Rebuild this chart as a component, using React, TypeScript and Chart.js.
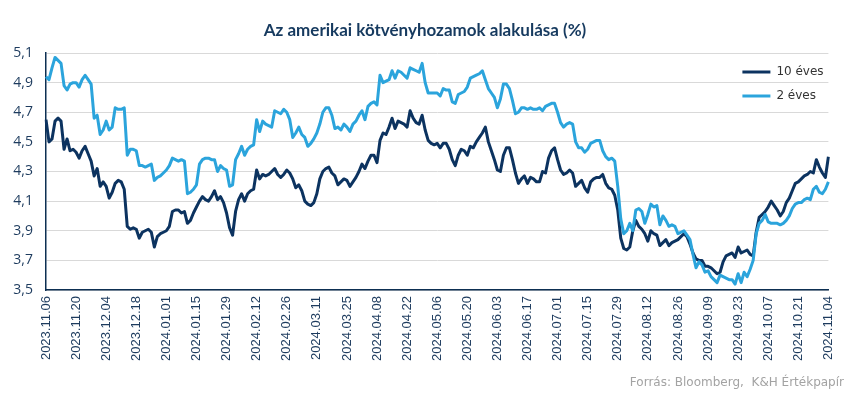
import { useEffect, useRef } from 'react';
import { Chart, registerables } from 'chart.js';

Chart.register(...registerables);

const TITLE = 'Az amerikai kötvényhozamok alakulása (%)';
const SOURCE = 'Forrás: Bloomberg,  K&H Értékpapír';
const SERIES_NAMES = ['10 éves', '2 éves'];

const TICK_LABELS = [
  '2023.11.06', '2023.11.20', '2023.12.04', '2023.12.18', '2024.01.01', '2024.01.15',
  '2024.01.29', '2024.02.12', '2024.02.26', '2024.03.11', '2024.03.25', '2024.04.08',
  '2024.04.22', '2024.05.06', '2024.05.20', '2024.06.03', '2024.06.17', '2024.07.01',
  '2024.07.15', '2024.07.29', '2024.08.12', '2024.08.26', '2024.09.09', '2024.09.23',
  '2024.10.07', '2024.10.21', '2024.11.04',
];
const TICK_EVERY = 10; // business days between labelled ticks

const Y10 = [
  4.65, 4.50, 4.52, 4.64, 4.66, 4.64, 4.45, 4.52, 4.44, 4.45,
  4.43, 4.39, 4.44, 4.47, 4.42, 4.37, 4.27, 4.32, 4.20, 4.23,
  4.20, 4.12, 4.16, 4.22, 4.24, 4.23, 4.18, 3.93, 3.91, 3.92,
  3.91, 3.85, 3.89, 3.90, 3.91, 3.89, 3.79, 3.86, 3.88, 3.89,
  3.90, 3.93, 4.03, 4.04, 4.04, 4.02, 4.03, 3.95, 3.97, 4.02,
  4.06, 4.10, 4.13, 4.11, 4.10, 4.13, 4.17, 4.11, 4.13, 4.09,
  4.02, 3.92, 3.87, 4.03, 4.11, 4.15, 4.10, 4.15, 4.17, 4.18,
  4.31, 4.25, 4.28, 4.27, 4.28, 4.30, 4.32, 4.28, 4.26, 4.28,
  4.31, 4.29, 4.25, 4.19, 4.21, 4.17, 4.10, 4.08, 4.07, 4.09,
  4.15, 4.25, 4.30, 4.32, 4.33, 4.29, 4.27, 4.21, 4.23, 4.25,
  4.24, 4.20, 4.23, 4.26, 4.30, 4.35, 4.32, 4.37, 4.41, 4.41,
  4.36, 4.51, 4.56, 4.55, 4.60, 4.66, 4.59, 4.64, 4.63, 4.62,
  4.60, 4.71, 4.66, 4.63, 4.62, 4.68, 4.58, 4.51, 4.49, 4.48,
  4.49, 4.46, 4.49, 4.49, 4.45, 4.38, 4.34, 4.41, 4.45, 4.44,
  4.41, 4.47, 4.46, 4.50, 4.53, 4.56, 4.60, 4.50, 4.44, 4.38,
  4.31, 4.30, 4.41, 4.46, 4.46, 4.38, 4.29, 4.22, 4.25, 4.27,
  4.22, 4.26, 4.25, 4.23, 4.23, 4.30, 4.29, 4.39, 4.44, 4.46,
  4.38, 4.31, 4.28, 4.29, 4.31, 4.29, 4.20, 4.22, 4.24, 4.19,
  4.16, 4.23, 4.25, 4.26, 4.26, 4.28, 4.22, 4.19, 4.18, 4.14,
  4.04, 3.85, 3.78, 3.77, 3.79, 3.90, 3.97, 3.93, 3.91, 3.88,
  3.83, 3.90, 3.88, 3.87, 3.80, 3.82, 3.84, 3.80, 3.82, 3.83,
  3.84, 3.86, 3.88, 3.86, 3.81, 3.75, 3.71, 3.70, 3.70, 3.66,
  3.66, 3.65, 3.63, 3.61, 3.62, 3.69, 3.73, 3.74, 3.75, 3.72,
  3.79, 3.75, 3.76, 3.77, 3.74, 3.73, 3.89, 3.99, 4.01, 4.03,
  4.06, 4.10, 4.07, 4.04, 4.00, 4.03, 4.09, 4.12, 4.17, 4.22,
  4.23, 4.25, 4.27, 4.28, 4.30, 4.29, 4.38, 4.33, 4.29, 4.26,
  4.40,
];

const Y2 = [
  4.94, 4.92, 5.00, 5.07, 5.05, 5.03, 4.88, 4.85, 4.89, 4.90,
  4.90, 4.87, 4.92, 4.95, 4.92, 4.89, 4.66, 4.68, 4.55, 4.58,
  4.64, 4.58, 4.60, 4.73, 4.72, 4.72, 4.73, 4.41, 4.45, 4.45,
  4.44, 4.34, 4.34, 4.33, 4.34, 4.35, 4.24, 4.26, 4.27, 4.29,
  4.31, 4.34, 4.39, 4.38, 4.37, 4.38, 4.37, 4.15, 4.16, 4.18,
  4.21, 4.35, 4.38, 4.39, 4.39, 4.38, 4.38, 4.30, 4.34, 4.32,
  4.31, 4.20, 4.21, 4.38, 4.42, 4.47, 4.41, 4.45, 4.47, 4.48,
  4.65, 4.57, 4.64, 4.62, 4.61, 4.60, 4.71, 4.70, 4.69, 4.72,
  4.70, 4.65, 4.53, 4.56, 4.60, 4.55, 4.53, 4.47, 4.49, 4.52,
  4.56, 4.62, 4.70, 4.73, 4.73, 4.68, 4.59, 4.60, 4.58, 4.62,
  4.60, 4.57, 4.62, 4.64, 4.68, 4.71, 4.65, 4.74, 4.76, 4.77,
  4.75, 4.95, 4.90, 4.91, 4.92, 4.98, 4.93, 4.98, 4.97, 4.95,
  4.93, 5.00, 4.99, 4.98, 4.97, 5.03, 4.90, 4.83, 4.83, 4.83,
  4.83, 4.81, 4.86, 4.85, 4.85, 4.77, 4.76, 4.82, 4.83, 4.84,
  4.87, 4.93, 4.94, 4.95, 4.96, 4.98, 4.92, 4.86, 4.83, 4.80,
  4.73, 4.79, 4.89, 4.89, 4.86, 4.78, 4.69, 4.70, 4.73, 4.73,
  4.72, 4.73, 4.72, 4.72, 4.73, 4.71, 4.74, 4.75, 4.76, 4.76,
  4.70, 4.63, 4.60, 4.62, 4.63, 4.62, 4.50, 4.46, 4.46, 4.43,
  4.45, 4.49, 4.50, 4.51, 4.51, 4.44, 4.40, 4.38, 4.39, 4.37,
  4.20, 3.98, 3.88, 3.90, 3.95, 3.90, 4.04, 4.05, 4.03, 3.95,
  4.01, 4.08, 4.06, 4.07, 3.94, 4.00, 3.97, 3.93, 3.94, 3.93,
  3.88, 3.89, 3.90, 3.87, 3.84, 3.74, 3.65, 3.69, 3.67, 3.62,
  3.63, 3.59, 3.57, 3.55, 3.60, 3.59, 3.58, 3.57, 3.57, 3.54,
  3.61, 3.55, 3.62, 3.59, 3.64, 3.70, 3.88, 3.95, 3.97, 4.01,
  3.96, 3.95, 3.95, 3.95, 3.94, 3.95, 3.97, 4.00, 4.05, 4.08,
  4.09, 4.09, 4.11, 4.12, 4.11, 4.18, 4.20, 4.16, 4.15, 4.18,
  4.23,
];

const Y_MIN = 3.5;
const Y_MAX = 5.1;
const Y_STEP = 0.2;

const DARK = '#0c3360';
const LIGHT = '#2ba4dc';
const AXIS = '#0d2f52';
const TEXT = '#1d3b5e';

const LABELS = Y10.map((_, i) => (i % TICK_EVERY === 0 ? TICK_LABELS[i / TICK_EVERY] ?? '' : ''));

const decor = {
  id: 'decor',
  afterDraw(chart: any) {
    const ctx = chart.ctx as CanvasRenderingContext2D;
    const area = chart.chartArea;
    ctx.save();
    // title
    ctx.fillStyle = '#163a5f';
    ctx.font = 'bold 17px Lato';
    ctx.textAlign = 'center';
    ctx.textBaseline = 'middle';
    ctx.fillText(TITLE, chart.width / 2, 31);

    // legend
    const lx = area.right - 86;
    const rows = [
      { name: SERIES_NAMES[0], color: DARK, y: area.top + 19 },
      { name: SERIES_NAMES[1], color: LIGHT, y: area.top + 43 },
    ];
    ctx.font = '12px "DejaVu Sans"';
    ctx.textAlign = 'left';
    ctx.textBaseline = 'middle';
    for (const r of rows) {
      ctx.strokeStyle = r.color;
      ctx.lineWidth = 3;
      ctx.beginPath();
      ctx.moveTo(lx, r.y);
      ctx.lineTo(lx + 28, r.y);
      ctx.stroke();
      ctx.fillStyle = '#333333';
      ctx.fillText(r.name, lx + 34, r.y);
    }

    // source
    ctx.fillStyle = '#a3a3a3';
    ctx.font = '12px "DejaVu Sans"';
    ctx.textAlign = 'right';
    ctx.textBaseline = 'alphabetic';
    ctx.fillText(SOURCE, chart.width - 6, 386);
    ctx.restore();
  },
};

export default function App() {
  const ref = useRef<HTMLCanvasElement>(null);
  useEffect(() => {
    const chart = new Chart(ref.current as HTMLCanvasElement, {
      type: 'line',
      data: {
        labels: LABELS,
        datasets: [
          {
            label: SERIES_NAMES[0],
            data: Y10,
            borderColor: DARK,
            backgroundColor: DARK,
            borderWidth: 3,
            pointRadius: 0,
            tension: 0,
            borderJoinStyle: 'round',
            order: 1,
          },
          {
            label: SERIES_NAMES[1],
            data: Y2,
            borderColor: LIGHT,
            backgroundColor: LIGHT,
            borderWidth: 3,
            pointRadius: 0,
            tension: 0,
            borderJoinStyle: 'round',
            order: 0,
          },
        ],
      },
      options: {
        responsive: false,
        animation: false,
        devicePixelRatio: 1,
        layout: { padding: { top: 53, right: 19, left: 0, bottom: 0 } },
        plugins: {
          legend: { display: false },
          title: { display: false },
          tooltip: { enabled: false },
        },
        scales: {
          x: {
            type: 'category',
            offset: false,
            grid: { display: false, drawTicks: false },
            border: { display: true, color: AXIS, width: 1.5 },
            ticks: {
              autoSkip: false,
              maxRotation: 90,
              minRotation: 90,
              padding: 6,
              color: TEXT,
              font: { family: '"Liberation Sans", Arial, sans-serif', size: 13 },
              callback: (_v: any, i: number) => LABELS[i],
            },
            afterFit: (s: any) => {
              s.height = 104;
            },
          },
          y: {
            min: Y_MIN,
            max: Y_MAX,
            grid: { color: '#d9d9d9', lineWidth: 1, drawTicks: false },
            border: { display: true, color: AXIS, width: 1.5 },
            ticks: {
              stepSize: Y_STEP,
              padding: 13,
              color: TEXT,
              font: { family: '"Open Sans", sans-serif', size: 14 },
              callback: (v: any) => Number(v).toFixed(1).replace('.', ','),
            },
            afterFit: (s: any) => {
              s.width = 46;
            },
          },
        },
      },
      plugins: [decor],
    });
    return () => chart.destroy();
  }, []);
  return (
    <div style={{ position: 'absolute', left: 0, top: 0, width: 850, height: 394, background: '#fff' }}>
      <canvas ref={ref} width={850} height={394} style={{ display: 'block' }} />
    </div>
  );
}
